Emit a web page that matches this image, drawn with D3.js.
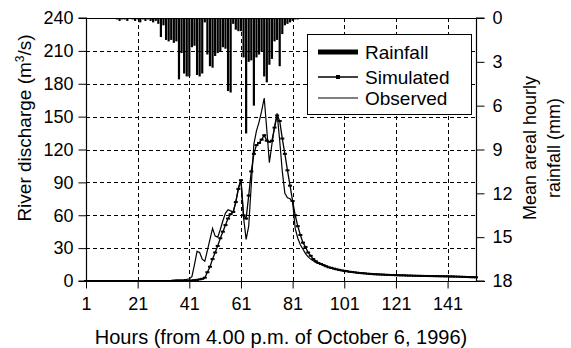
<!DOCTYPE html>
<html><head><meta charset="utf-8">
<script src="https://cdn.jsdelivr.net/npm/d3@7"></script>
<style>
html,body{margin:0;padding:0;background:#fff;}
svg{display:block;font-family:"Liberation Sans",Arial,sans-serif;}
</style></head>
<body>
<svg id="c" width="571" height="348"></svg>
<script>
// Hours 1..152
const startHour = 1;
const xTicks = [1, 21, 41, 61, 81, 101, 121, 141];
const leftTicks = [0, 30, 60, 90, 120, 150, 180, 210, 240];
const rightTicks = [0, 3, 6, 9, 12, 15, 18];

// Mean areal hourly rainfall (mm), hours 1..83
const rainfall = [
 0,0,0,0,0,0,0,0,0,0,
 0,0,0.1,0.2,0.1,0.1,0.2,0,0.1,0.2,
 0.1,0.3,0.1,0.2,0.1,0.2,0.3,0.2,0.4,1.3,
 0.5,1.5,1.6,1.5,1.7,1.6,4.2,2.4,3.8,4.0,
 4.0,2.0,1.9,3.9,4.0,3.8,0.3,2.5,3.3,3.4,
 2.6,2.4,2.3,2.0,2.1,5.0,5.1,0.4,0.8,0.9,
 0.9,2.7,7.9,3.0,2.9,6.0,2.7,2.5,2.3,4.0,
 4.4,3.2,2.8,1.6,1.5,3.3,1.1,0.5,0.4,0.3,
 0.2,0.1,0.1
];

// Observed discharge (m3/s), hours 1..152
const observed = [
 0,0,0,0,0,0,0,0,0,0,
 0,0,0,0,0,0,0,0,0,0,
 0,0,0,0,0,0,0,0,0,0,
 0,0,0.3,0.5,0.8,1,1,1,1.2,1.5,
 2,4,15,27,26,20,18,28,38,48,
 41,40,47,55,62,65,64,63,72,85,
 93,58,38,50,88,125,137,145,155,167,
 138,108,125,141,153,128,100,80,76,75,
 72,48,39,33,29,25,22,20,18.5,17,
 16,15,14,13,12.3,11.6,11,10.5,10,9.5,
 9,8.7,8.4,8.1,7.8,7.6,7.4,7.2,7,6.8,
 6.6,6.4,6.3,6.2,6.1,6,5.9,5.8,5.7,5.6,
 5.5,5.4,5.3,5.3,5.2,5.1,5.1,5,5,4.9,
 4.9,4.8,4.8,4.7,4.7,4.6,4.6,4.5,4.5,4.4,
 4.4,4.3,4.3,4.2,4.1,4.0,3.9,3.8,3.7,3.6,
 3.5,3.5
];

// Simulated discharge (m3/s), hours 1..152
const simulated = [
 0,0,0,0,0,0,0,0,0,0,
 0,0,0,0,0,0,0,0,0,0,
 0,0,0,0,0,0,0,0,0,0,
 0,0,0,0,0,0,0,0,0,0,
 0.3,0.5,0.8,1,1.5,2,3,8,13,20,
 26,32,39,45,51,57,61,63,72,84,
 92,60,57,78,100,116,124,126,129,133,
 128,127,128,140,151,146,130,116,101,87,
 73,60,50,42,35,31,26,23,20,18,
 16.5,15.5,14.5,13.5,12.5,12,11.3,10.7,10.2,9.7,
 9.3,8.9,8.5,8.2,7.9,7.6,7.3,7.1,6.9,6.7,
 6.5,6.3,6.1,6.0,5.9,5.8,5.7,5.6,5.5,5.4,
 5.3,5.2,5.1,5.1,5.0,4.9,4.9,4.8,4.8,4.7,
 4.7,4.6,4.6,4.5,4.5,4.4,4.4,4.3,4.3,4.2,
 4.2,4.1,4.1,4.0,4.0,3.9,3.8,3.7,3.6,3.5,
 3.4,3.4
];

const legendLabels = ["Rainfall", "Simulated", "Observed"];

const svg = d3.select("#c");
const L = 86, R = 476, T = 18, B = 281;
const FS = 18;

const x = d3.scaleLinear().domain([1, 152]).range([L, R]);
const y = d3.scaleLinear().domain([0, 240]).range([B, T]);
const yr = d3.scaleLinear().domain([0, 18]).range([T, B]);

// gridlines
const g = svg.append("g");
g.selectAll("line.hg").data(leftTicks.filter(d => d > 0 && d < 240)).join("line")
  .attr("x1", L).attr("x2", R).attr("y1", d => Math.round(y(d)) + 0.5).attr("y2", d => Math.round(y(d)) + 0.5)
  .attr("stroke", "#000").attr("stroke-width", 1).attr("stroke-dasharray", "4,3");
g.selectAll("line.vg").data(xTicks.filter(d => d > 1)).join("line")
  .attr("y1", T).attr("y2", B).attr("x1", d => Math.round(x(d)) + 0.5).attr("x2", d => Math.round(x(d)) + 0.5)
  .attr("stroke", "#000").attr("stroke-width", 1).attr("stroke-dasharray", "4,3");

// rainfall bars
svg.append("g").selectAll("rect").data(rainfall.map((v, i) => ({h: i + startHour, v})).filter(d => d.v > 0)).join("rect")
  .attr("x", d => x(d.h) - 1.1).attr("width", 2.2)
  .attr("y", T).attr("height", d => yr(d.v) - T)
  .attr("fill", "#000");

// lines
const obsData = observed.map((v, i) => ({h: i + startHour, v}));
const simData = simulated.map((v, i) => ({h: i + startHour, v}));
const line = d3.line().x(d => x(d.h)).y(d => y(d.v));
svg.append("path").datum(obsData).attr("d", line).attr("fill", "none").attr("stroke", "#000").attr("stroke-width", 1.2);
svg.append("path").datum(simData).attr("d", line).attr("fill", "none").attr("stroke", "#000").attr("stroke-width", 1.3);
svg.append("g").selectAll("rect").data(simData).join("rect")
  .attr("x", d => x(d.h) - 2).attr("y", d => y(d.v) - 1).attr("width", 4).attr("height", 2).attr("fill", "#000");

// frame
svg.append("line").attr("x1", L).attr("x2", R).attr("y1", T + 0.5).attr("y2", T + 0.5).attr("stroke", "#000");

// axes
const axL = svg.append("g").attr("transform", `translate(${L + 0.5},0)`)
  .call(d3.axisLeft(y).tickValues(leftTicks).tickSize(8).tickPadding(5));
const axR = svg.append("g").attr("transform", `translate(${R + 0.5},0)`)
  .call(d3.axisRight(yr).tickValues(rightTicks).tickSize(8).tickPadding(8));
const axB = svg.append("g").attr("transform", `translate(0,${B + 0.5})`)
  .call(d3.axisBottom(x).tickValues(xTicks).tickSize(7).tickPadding(9));
[axL, axR, axB].forEach(a => {
  a.select(".domain").attr("stroke", "#000").attr("stroke-width", 1.2);
  a.selectAll(".tick line").attr("stroke", "#000");
  a.selectAll("text").attr("font-size", FS).attr("fill", "#000").attr("font-family", "Liberation Sans, Arial, sans-serif");
});
axL.select(".domain").attr("d", `M-8,${T}H0V${B}H-8`);
axR.select(".domain").attr("d", `M8,${T}H0V${B}H8`);
axB.select(".domain").attr("d", `M${L - 6},0H${R + 9}`);

// axis titles
svg.append("text").attr("transform", `translate(31,128) rotate(-90)`).attr("text-anchor", "middle")
  .attr("font-size", 19).attr("fill", "#000")
  .html('River discharge (m<tspan baseline-shift="super" font-size="12">3</tspan>/s)');
svg.append("text").attr("transform", `translate(536,148) rotate(-90)`).attr("text-anchor", "middle")
  .attr("font-size", 18).attr("fill", "#000").text("Mean areal hourly");
svg.append("text").attr("transform", `translate(560,148) rotate(-90)`).attr("text-anchor", "middle")
  .attr("font-size", 18).attr("fill", "#000").text("rainfall (mm)");
svg.append("text").attr("x", 281).attr("y", 344).attr("text-anchor", "middle")
  .attr("font-size", 20).attr("fill", "#000").text("Hours (from 4.00 p.m. of October 6, 1996)");

// legend
const lg = svg.append("g");
lg.append("rect").attr("x", 307.5).attr("y", 34.5).attr("width", 164).attr("height", 80)
  .attr("fill", "#fff").attr("stroke", "#000").attr("stroke-width", 1);
const rows = [52, 77, 98];
lg.append("line").attr("x1", 318).attr("x2", 358).attr("y1", rows[0]).attr("y2", rows[0]).attr("stroke", "#000").attr("stroke-width", 5);
lg.append("line").attr("x1", 318).attr("x2", 358).attr("y1", rows[1]).attr("y2", rows[1]).attr("stroke", "#000").attr("stroke-width", 1.3);
lg.append("rect").attr("x", 336).attr("y", rows[1] - 2).attr("width", 4).attr("height", 4).attr("fill", "#000");
lg.append("line").attr("x1", 318).attr("x2", 358).attr("y1", rows[2]).attr("y2", rows[2]).attr("stroke", "#000").attr("stroke-width", 1.2);
lg.selectAll("text").data(legendLabels).join("text")
  .attr("x", 365).attr("y", (d, i) => rows[i] + 7).attr("font-size", 19).attr("fill", "#000").text(d => d);
</script>
</body></html>
